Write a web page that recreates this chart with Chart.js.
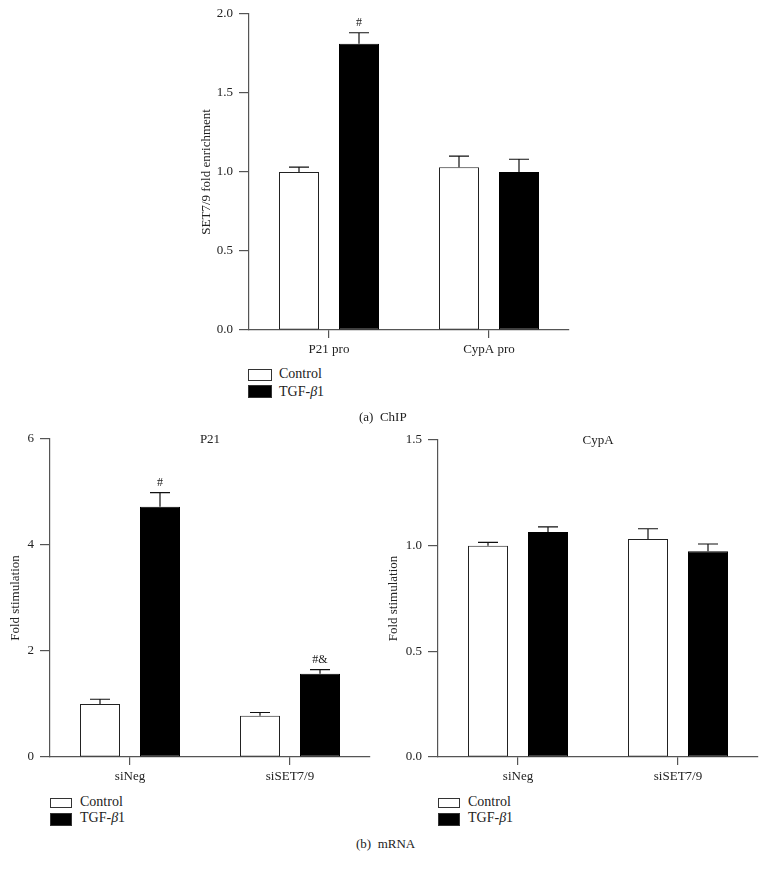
<!DOCTYPE html>
<html>
<head>
<meta charset="utf-8">
<script src="https://cdn.jsdelivr.net/npm/chart.js@4"></script>
<style>
  body { margin: 0; background: #fff; }
  #pagina { position: relative; width: 767px; height: 870px; font-family: 'Liberation Serif', 'DejaVu Serif', serif; color: #222; }
  .caixa { position: absolute; }
  .legenda { position: absolute; font-size: 14px; width: 120px; height: 32px; }
  .legenda .quad { position: absolute; border: 1px solid #333; box-sizing: border-box; }
  .legenda .txt { position: absolute; line-height: 16px; white-space: nowrap; }
  .rotulo { position: absolute; font-size: 13px; white-space: nowrap; }
</style>
</head>
<body>
<div id="pagina">
  <div class="caixa" style="left:180px; top:0px; width:400px; height:360px;"><canvas id="graficoChip"></canvas></div>
  <div class="caixa" style="left:0px; top:420px; width:380px; height:367px;"><canvas id="graficoP21"></canvas></div>
  <div class="caixa" style="left:380px; top:420px; width:387px; height:367px;"><canvas id="graficoCypA"></canvas></div>

  <!-- legendas -->
  <div class="legenda" style="left:248px; top:368px;">
    <div class="quad" style="left:0; top:1px; width:24px; height:12px; background:#fff;"></div>
    <div class="txt" style="left:31px; top:-2px;">Control</div>
    <div class="quad" style="left:0; top:17px; width:24px; height:13px; background:#000;"></div>
    <div class="txt" style="left:31px; top:16px;">TGF-<i>β</i>1</div>
  </div>
  <div class="legenda" style="left:50px; top:797px;">
    <div class="quad" style="left:0; top:1px; width:22px; height:10px; background:#fff;"></div>
    <div class="txt" style="left:30px; top:-3px;">Control</div>
    <div class="quad" style="left:0; top:16px; width:22px; height:13px; background:#000;"></div>
    <div class="txt" style="left:30px; top:13px;">TGF-<i>β</i>1</div>
  </div>
  <div class="legenda" style="left:438px; top:797px;">
    <div class="quad" style="left:0; top:1px; width:22px; height:10px; background:#fff;"></div>
    <div class="txt" style="left:30px; top:-3px;">Control</div>
    <div class="quad" style="left:0; top:16px; width:22px; height:13px; background:#000;"></div>
    <div class="txt" style="left:30px; top:13px;">TGF-<i>β</i>1</div>
  </div>

  <div class="rotulo" style="left:359px; top:409px;">(a)&nbsp;&nbsp;ChIP</div>
  <div class="rotulo" style="left:356px; top:836px;">(b)&nbsp;&nbsp;mRNA</div>
</div>

<script>
// * Dados do painel (a) ChIP
var chipCategorias = ['P21 pro', 'CypA pro'];
var chipControle = [1.00, 1.03];
var chipControleErro = [1.03, 1.10];
var chipTgf = [1.81, 1.00];
var chipTgfErro = [1.88, 1.08];
var chipTgfMarcas = ['#', ''];
var chipTicks = [0, 0.5, 1.0, 1.5, 2.0];

// * Dados do painel (b) mRNA - P21
var mrnaCategorias = ['siNeg', 'siSET7/9'];
var p21Controle = [1.00, 0.78];
var p21ControleErro = [1.09, 0.84];
var p21Tgf = [4.72, 1.57];
var p21TgfErro = [4.99, 1.65];
var p21TgfMarcas = ['#', '#&'];
var p21Ticks = [0, 2, 4, 6];

// * Dados do painel (b) mRNA - CypA
var cypaControle = [1.00, 1.032];
var cypaControleErro = [1.016, 1.08];
var cypaTgf = [1.065, 0.973];
var cypaTgfErro = [1.089, 1.008];
var cypaTicks = [0, 0.5, 1.0, 1.5];

var fonteSerif = "'Liberation Serif', 'DejaVu Serif', serif";
var corEixo = '#555';

// > Plugin que desenha barras de erro, marcas (#) e o título do painel
var barrasErro = {
    id: 'barrasErro',
    afterDatasetsDraw: function (chart) {
        var ctx = chart.ctx;
        var y = chart.scales.y;
        ctx.save();
        chart.data.datasets.forEach(function (ds, di) {
            var meta = chart.getDatasetMeta(di);
            meta.data.forEach(function (barra, i) {
                var topo = y.getPixelForValue(ds.erroTopo[i]);
                var meia = barra.width / 4;
                ctx.strokeStyle = '#111';
                ctx.lineWidth = 1.2;
                ctx.beginPath();
                ctx.moveTo(barra.x, barra.y);
                ctx.lineTo(barra.x, topo);
                ctx.moveTo(barra.x - meia, topo);
                ctx.lineTo(barra.x + meia, topo);
                ctx.stroke();
                if (ds.marcas && ds.marcas[i]) {
                    ctx.fillStyle = '#222';
                    ctx.font = '12px ' + fonteSerif;
                    ctx.textAlign = 'center';
                    ctx.textBaseline = 'middle';
                    ctx.fillText(ds.marcas[i], barra.x, topo - 10);
                }
            });
        });
        var titulo = chart.options.tituloPainel;
        if (titulo) {
            var area = chart.chartArea;
            ctx.fillStyle = '#222';
            ctx.font = '13px ' + fonteSerif;
            ctx.textAlign = 'center';
            ctx.textBaseline = 'middle';
            ctx.fillText(titulo, (area.left + area.right) / 2, area.top + 1);
        }
        ctx.restore();
    }
};

function criaGrafico(id, categorias, controle, controleErro, tgf, tgfErro, marcas, ticks, casas, tituloY, cfg) {
    var ctx = document.getElementById(id).getContext('2d');
    return new Chart(ctx, {
        type: 'bar',
        data: {
            labels: categorias,
            datasets: [{
                label: 'Control',
                data: controle,
                erroTopo: controleErro,
                backgroundColor: '#fff',
                borderColor: '#222',
                borderWidth: 1,
                borderSkipped: false
            }, {
                label: 'TGF-β1',
                data: tgf,
                erroTopo: tgfErro,
                marcas: marcas,
                backgroundColor: '#000',
                borderColor: '#000',
                borderWidth: 1,
                borderSkipped: false
            }]
        },
        options: {
            responsive: true,
            maintainAspectRatio: false,
            animation: false,
            tituloPainel: cfg.titulo,
            layout: { padding: { top: cfg.topo, right: cfg.direita, bottom: 0, left: 0 } },
            datasets: { bar: { categoryPercentage: 0.75, barPercentage: 2 / 3 } },
            plugins: { legend: { display: false }, tooltip: { enabled: false } },
            scales: {
                x: {
                    grid: { display: true, drawOnChartArea: false, offset: false, tickLength: 8, color: corEixo, lineWidth: 1.2 },
                    border: { display: true, color: corEixo, width: 1.2 },
                    ticks: { color: '#222', font: { family: fonteSerif, size: 13 }, padding: 4 },
                    afterFit: function (s) { s.height = 30; }
                },
                y: {
                    min: ticks[0],
                    max: ticks[ticks.length - 1],
                    afterBuildTicks: function (s) { s.ticks = ticks.map(function (v) { return { value: v }; }); },
                    grid: { display: true, drawOnChartArea: false, tickLength: 10, color: corEixo, lineWidth: 1.2 },
                    border: { display: true, color: corEixo, width: 1.2 },
                    ticks: {
                        color: '#222',
                        font: { family: fonteSerif, size: 13 },
                        padding: 6,
                        callback: function (v) { return Number(v).toFixed(casas); }
                    },
                    title: {
                        display: true,
                        text: tituloY,
                        color: '#222',
                        font: { family: fonteSerif, size: 13 },
                        padding: { top: cfg.tituloPad, bottom: 0 }
                    },
                    afterFit: function (s) { s.width = cfg.larguraY; }
                }
            }
        },
        plugins: [barrasErro]
    });
}

criaGrafico('graficoChip', chipCategorias, chipControle, chipControleErro, chipTgf, chipTgfErro, chipTgfMarcas,
    chipTicks, 1, 'SET7/9 fold enrichment', { topo: 13, direita: 11, larguraY: 69, tituloPad: 19, titulo: '' });

criaGrafico('graficoP21', mrnaCategorias, p21Controle, p21ControleErro, p21Tgf, p21TgfErro, p21TgfMarcas,
    p21Ticks, 0, 'Fold stimulation', { topo: 19, direita: 10, larguraY: 50, tituloPad: 8, titulo: 'P21' });

criaGrafico('graficoCypA', mrnaCategorias, cypaControle, cypaControleErro, cypaTgf, cypaTgfErro, null,
    cypaTicks, 1, 'Fold stimulation', { topo: 20, direita: 9, larguraY: 58, tituloPad: 6, titulo: 'CypA' });
</script>
</body>
</html>
